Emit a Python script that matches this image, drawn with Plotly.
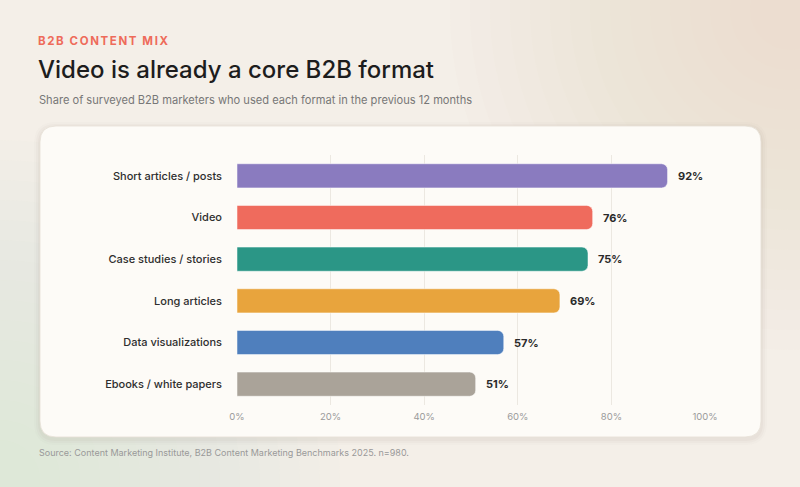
import plotly.graph_objects as go

# data
formats = ["Short articles / posts", "Video", "Case studies / stories",
           "Long articles", "Data visualizations", "Ebooks / white papers"]
share_pct = [92, 76, 75, 69, 57, 51]
bar_colors = ["#8a7bbf", "#ef6b5d", "#2b9686", "#e8a43d", "#4f7fbd", "#aaa399"]
tick_vals = [0, 20, 40, 60, 80, 100]
tick_text = ["0%", "20%", "40%", "60%", "80%", "100%"]

W, H = 800, 487
ML, MR, MT, MB = 237, 95, 155, 82
PW, PH = W - ML - MR, H - MT - MB


def px_x(x):
    return (x - ML) / PW


def px_y(y):
    return (H - MB - y) / PH


def rounded_rect(x0, y0, x1, y1, r):
    # pixel box -> paper path with rounded corners
    a, b, c, d = px_x(x0), px_y(y0), px_x(x1), px_y(y1)
    rx, ry = r / PW, r / PH
    return (f"M{a + rx},{b} L{c - rx},{b} Q{c},{b} {c},{b - ry} "
            f"L{c},{d + ry} Q{c},{d} {c - rx},{d} L{a + rx},{d} "
            f"Q{a},{d} {a},{d + ry} L{a},{b - ry} Q{a},{b} {a + rx},{b} Z")


fig = go.Figure(go.Bar(
    x=share_pct,
    y=formats,
    orientation="h",
    width=0.58,
    marker=dict(color=bar_colors, cornerradius=6,
                line=dict(color="rgba(255,255,255,0.5)", width=1)),
    hoverinfo="skip",
))

shapes = []
# soft background glows
for i in range(16):
    r = 40 + i * 20
    shapes.append(dict(type="circle", xref="paper", yref="paper", layer="below",
                       x0=px_x(790 - r), x1=px_x(790 + r), y0=px_y(10 - r), y1=px_y(10 + r),
                       fillcolor="rgba(245,222,195,0.05)", line_width=0))
    shapes.append(dict(type="circle", xref="paper", yref="paper", layer="below",
                       x0=px_x(0 - r), x1=px_x(0 + r), y0=px_y(480 - r), y1=px_y(480 + r),
                       fillcolor="rgba(205,222,208,0.045)", line_width=0))
# card shadow + card
for k, alpha in [(6, 0.02), (4, 0.03), (2, 0.04)]:
    shapes.append(dict(type="path", xref="paper", yref="paper", layer="below",
                       path=rounded_rect(40 - k, 126 - k + 2, 761 + k, 437 + k + 2, 16 + k),
                       fillcolor=f"rgba(120,100,80,{alpha})", line_width=0))
shapes.append(dict(type="path", xref="paper", yref="paper", layer="below",
                   path=rounded_rect(40, 126, 761, 437, 16),
                   fillcolor="#fdfbf7", line=dict(color="rgba(230,224,214,0.8)", width=1)))

annotations = [
    dict(text="B2B CONTENT MIX", x=px_x(38), y=px_y(41), xanchor="left", yanchor="middle",
         xshift=10,
         font=dict(family="Inter", size=11.5, color="#ee6b5a", weight=700)),
    dict(text="Video is already a core B2B format", x=px_x(36), y=px_y(70),
         xanchor="left", yanchor="middle",
         font=dict(family="Inter", size=24, color="#1d1d1d", weight=500)),
    dict(text="Share of surveyed B2B marketers who used each format in the previous 12 months",
         x=px_x(37), y=px_y(100), xanchor="left", yanchor="middle",
         font=dict(family="Inter", size=11.1, color="#777777")),
    dict(text="Source: Content Marketing Institute, B2B Content Marketing Benchmarks 2025. n=980.",
         x=px_x(37), y=px_y(452), xanchor="left", yanchor="middle",
         font=dict(family="Inter", size=9, color="#999999")),
]
for a in annotations:
    a.update(xref="paper", yref="paper", showarrow=False)

# value labels next to bar ends
for f, v in zip(formats, share_pct):
    annotations.append(dict(x=v, y=f, xref="x", yref="y", text=f"{v}%", showarrow=False,
                            xanchor="left", yanchor="middle", xshift=8,
                            font=dict(family="Inter", size=11, color="#2a2a2a", weight=700)))

fig.update_layout(
    width=W, height=H,
    margin=dict(l=ML, r=MR, t=MT, b=MB),
    paper_bgcolor="#f4efe8",
    plot_bgcolor="rgba(0,0,0,0)",
    showlegend=False,
    shapes=shapes,
    annotations=annotations,
    xaxis=dict(range=[0, 100], tickvals=tick_vals, ticktext=tick_text,
               showgrid=True, gridcolor="#ece8e1", gridwidth=1, zeroline=False,
               showline=False, ticks="", ticklabelstandoff=4,
               tickfont=dict(family="Inter", size=9.5, color="#9a9a9a"), fixedrange=True),
    yaxis=dict(autorange="reversed", showgrid=False, zeroline=False, showline=False,
               ticks="", ticklabelstandoff=14,
               tickfont=dict(family="Inter", size=11, color="#2e2e2e", weight=500),
               fixedrange=True),
    font=dict(family="Inter"),
)

post = """
document.body.style.margin = '0';
var k = document.querySelector('.annotation-text');
if (k) { k.style.letterSpacing = '1.6px'; }
"""
fig.write_html("out.html", config={"displayModeBar": False}, post_script=post)
